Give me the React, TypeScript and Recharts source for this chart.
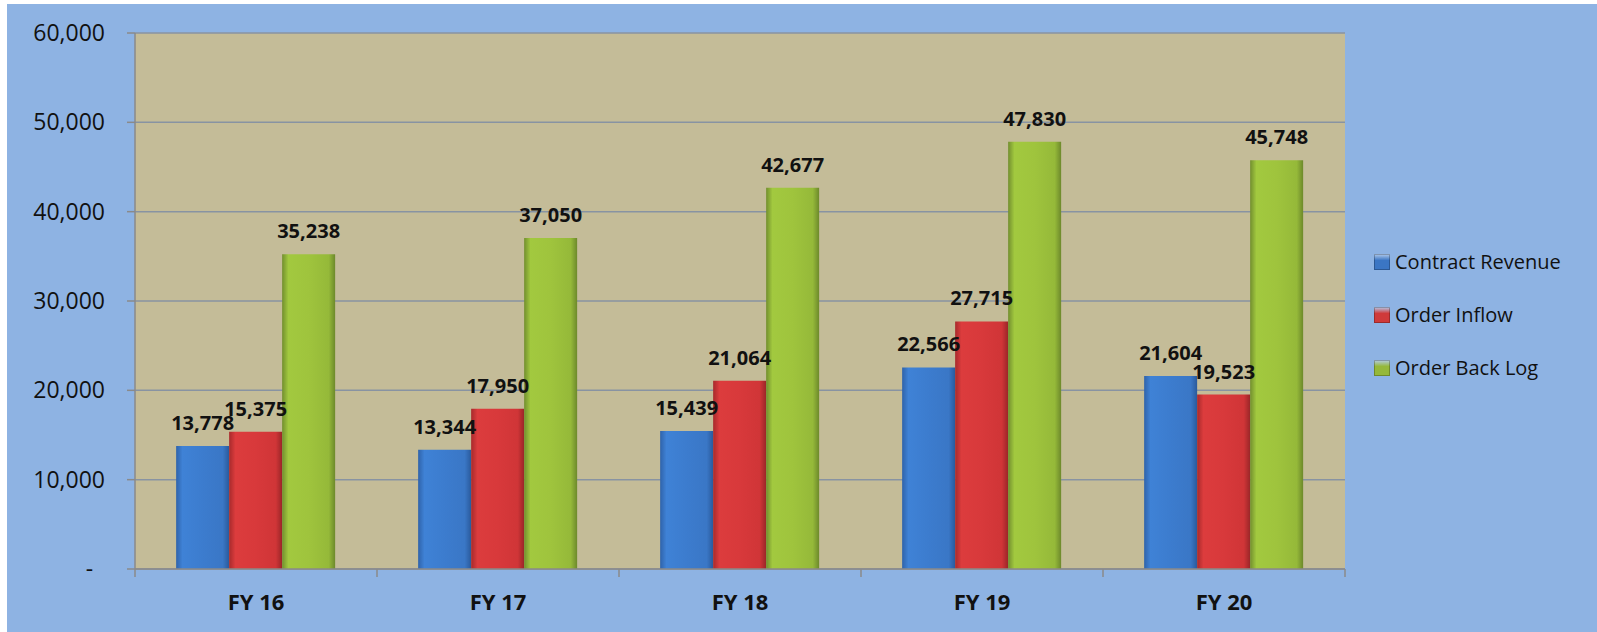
import React from "react";
import { BarChart, Bar, XAxis, YAxis, CartesianGrid, Legend, LabelList } from "recharts";

const categories = ["FY 16", "FY 17", "FY 18", "FY 19", "FY 20"];
const contractRevenue = [13778, 13344, 15439, 22566, 21604];
const orderInflow = [15375, 17950, 21064, 27715, 19523];
const orderBackLog = [35238, 37050, 42677, 47830, 45748];
const yTicks = [0, 10000, 20000, 30000, 40000, 50000, 60000];
const seriesNames = ["Contract Revenue", "Order Inflow", "Order Back Log"];

const data = categories.map((c, i) => ({
  name: c,
  cr: contractRevenue[i],
  oi: orderInflow[i],
  ob: orderBackLog[i],
}));

const FONT = "'Open Sans', 'Noto Sans', sans-serif";
const fmt = (v: number) => (v === 0 ? "-\u00a0\u00a0" : v.toLocaleString("en-US"));

const X_TICK_SIZE = 8;
const X_TICK_MARGIN = 17;
const AXIS_GRAY = "#8a8a8a";

const legendColors = ["url(#gBlue)", "url(#gRed)", "url(#gGreen)"];
const legendSolid = ["#3b76c4", "#cf3a3a", "#95b83a"];

const XTick = (props: any) => {
  const { x, y, payload, index, visibleTicksCount } = props;
  const half = payload?.offset ?? 0;
  const axisY = y - X_TICK_SIZE - X_TICK_MARGIN;
  return (
    <g>
      <line x1={x - half} x2={x - half} y1={axisY} y2={axisY + X_TICK_SIZE} stroke={AXIS_GRAY} strokeWidth={1.5} />
      {index === visibleTicksCount - 1 && (
        <line x1={x + half} x2={x + half} y1={axisY} y2={axisY + X_TICK_SIZE} stroke={AXIS_GRAY} strokeWidth={1.5} />
      )}
      <text x={x} y={y} dy="0.71em" textAnchor="middle" fill="#111" fontSize={22} fontWeight={700} fontFamily={FONT}>
        {payload.value}
      </text>
    </g>
  );
};

const LegendContent = () => (
  <div style={{ fontFamily: FONT, fontSize: 20, color: "#111" }}>
    {seriesNames.map((n, i) => (
      <div key={n} style={{ display: "flex", alignItems: "center", height: 53 }}>
        <span
          style={{
            display: "inline-block",
            width: 16,
            height: 16,
            marginRight: 5,
            background: `linear-gradient(180deg, #ffffff55 0%, ${legendSolid[i]} 40%, ${legendSolid[i]} 100%)`,
            boxShadow: "inset 0 0 0 1px rgba(0,0,0,0.25)",
          }}
        />
        <span>{n}</span>
      </div>
    ))}
  </div>
);

export default function App() {
  return (
    <div style={{ position: "fixed", left: 7, top: 4, width: 1590, height: 628, background: "#8eb3e3" }}>
      <BarChart
        width={1590}
        height={628}
        data={data}
        margin={{ top: 29, right: 252, bottom: 0, left: 0 }}
        barCategoryGap="17%"
        barGap={0}
      >
        <defs>
          <linearGradient id="gBlue" x1="0" y1="0" x2="1" y2="0">
            <stop offset="0%" stopColor="#2f63aa" />
            <stop offset="12%" stopColor="#3f82d6" />
            <stop offset="50%" stopColor="#3c7cce" />
            <stop offset="88%" stopColor="#3a77c6" />
            <stop offset="100%" stopColor="#2a5a9c" />
          </linearGradient>
          <linearGradient id="gRed" x1="0" y1="0" x2="1" y2="0">
            <stop offset="0%" stopColor="#a82a2c" />
            <stop offset="12%" stopColor="#dc3c3d" />
            <stop offset="50%" stopColor="#d8393b" />
            <stop offset="88%" stopColor="#d03537" />
            <stop offset="100%" stopColor="#9a2628" />
          </linearGradient>
          <linearGradient id="gGreen" x1="0" y1="0" x2="1" y2="0">
            <stop offset="0%" stopColor="#728f2e" />
            <stop offset="12%" stopColor="#a2c93f" />
            <stop offset="50%" stopColor="#9fc43d" />
            <stop offset="88%" stopColor="#95b939" />
            <stop offset="100%" stopColor="#6d892b" />
          </linearGradient>
        </defs>
        <CartesianGrid horizontal vertical={false} stroke="#8893a2" strokeWidth={1.5} fill="#c4bc98" fillOpacity={1} />
        <XAxis
          dataKey="name"
          height={63}
          axisLine={{ stroke: AXIS_GRAY, strokeWidth: 1.5 }}
          tickLine={false}
          tickSize={X_TICK_SIZE}
          tickMargin={X_TICK_MARGIN}
          interval={0}
          tick={<XTick />}
        />
        <YAxis
          width={128}
          domain={[0, 60000]}
          ticks={yTicks}
          interval={0}
          tickFormatter={fmt}
          axisLine={{ stroke: AXIS_GRAY, strokeWidth: 1.5 }}
          tickLine={{ stroke: AXIS_GRAY, strokeWidth: 1.5 }}
          tickSize={8}
          tickMargin={22}
          tick={{ fill: "#111", fontSize: 23, fontFamily: FONT }}
        />
        <Legend
          layout="horizontal"
          align="center"
          verticalAlign="middle"
          wrapperStyle={{ left: 1367, top: 231, width: 220 }}
          content={<LegendContent />}
        />
        {(["cr", "oi", "ob"] as const).map((k, i) => (
          <Bar key={k} dataKey={k} name={seriesNames[i]} fill={legendColors[i]} isAnimationActive={false}>
            <LabelList
              dataKey={k}
              position="top"
              offset={16}
              formatter={(v: any) => Number(v).toLocaleString("en-US")}
              style={{ fill: "#111", fontSize: 20, fontWeight: 700, fontFamily: FONT }}
            />
          </Bar>
        ))}
      </BarChart>
    </div>
  );
}
